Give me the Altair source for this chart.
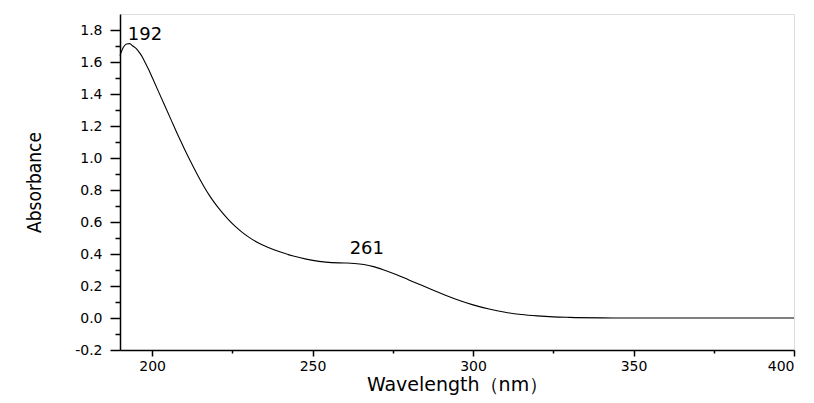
import altair as alt
import pandas as pd

wavelength = [190, 191, 192, 193, 194, 195, 196, 197, 198, 199, 200, 202, 204, 206, 208, 210, 212,
              214, 216, 218, 220, 222, 224, 226, 228, 230, 233, 236, 240, 244, 248, 252, 256, 260,
              263, 266, 269, 272, 276, 280, 284, 288, 292, 296, 300, 305, 310, 315, 320, 325, 330,
              340, 350, 375, 400]
absorbance = [1.64, 1.69, 1.713, 1.715, 1.70, 1.685, 1.66, 1.63, 1.59, 1.55, 1.505, 1.415, 1.325,
              1.235, 1.145, 1.06, 0.978, 0.90, 0.827, 0.762, 0.705, 0.655, 0.61, 0.571, 0.537,
              0.507, 0.47, 0.442, 0.412, 0.387, 0.368, 0.354, 0.346, 0.344, 0.341, 0.334, 0.321,
              0.302, 0.272, 0.238, 0.204, 0.171, 0.138, 0.108, 0.082, 0.056, 0.036, 0.022, 0.013,
              0.007, 0.004, 0.001, 0.0, 0.0, 0.0]

peak_labels = ["192", "261"]
peak_x = [197.8, 266.9]
peak_y = [1.77, 0.43]

x_major = [200, 250, 300, 350, 400]
x_minor = [225, 275, 325, 375]
y_major = [-0.2, 0.0, 0.2, 0.4, 0.6, 0.8, 1.0, 1.2, 1.4, 1.6, 1.8]
y_minor = [-0.1, 0.1, 0.3, 0.5, 0.7, 0.9, 1.1, 1.3, 1.5, 1.7]

df = pd.DataFrame({"wl": wavelength, "abs": absorbance})
lab = pd.DataFrame({"t": peak_labels, "wl": peak_x, "abs": peak_y})

FONT = "DejaVu Sans"
xscale = alt.Scale(domain=[190, 400], nice=False, zero=False)
yscale = alt.Scale(domain=[-0.2, 1.9], nice=False, zero=False)

lab_expr = "datum.value < 0 ? '-' + format(-datum.value, '.1f') : format(datum.value, '.1f')"

line = alt.Chart(df).mark_line(color="black", strokeWidth=1.1, interpolate="monotone").encode(
    x=alt.X("wl:Q", scale=xscale,
            axis=alt.Axis(orient="bottom", values=x_major, format="d", title="Wavelength（nm）",
                          tickSize=6, labelPadding=3, labelFontSize=14, labelFont=FONT,
                          titleFont=FONT, titleFontSize=19, titleFontWeight="normal",
                          titlePadding=2, domainColor="black", domainWidth=1.5,
                          tickColor="black", tickWidth=1.5, labelColor="black",
                          titleColor="black", grid=False)),
    y=alt.Y("abs:Q", scale=yscale,
            axis=alt.Axis(orient="left", values=y_major, labelExpr=lab_expr, title="Absorbance",
                          tickSize=10, labelPadding=8, labelFontSize=14, labelFont=FONT,
                          titleFont="DejaVu Sans Condensed, Liberation Sans Narrow, Liberation Sans",
                          titleFontSize=19, titleFontWeight="normal", titlePadding=30,
                          domainColor="black", domainWidth=1.5, tickColor="black", tickWidth=1.5,
                          labelColor="black", titleColor="black", grid=False)),
)

minor = alt.Chart(df).mark_line(opacity=0).encode(
    x=alt.X("wl:Q", scale=xscale,
            axis=alt.Axis(orient="bottom", values=x_minor, labels=False, title=None, tickSize=3,
                          domain=False, tickColor="black", tickWidth=1.5, grid=False)),
    y=alt.Y("abs:Q", scale=yscale,
            axis=alt.Axis(orient="left", values=y_minor, labels=False, title=None, tickSize=5,
                          domain=False, tickColor="black", tickWidth=1.5, grid=False)),
)

text = alt.Chart(lab).mark_text(font=FONT, fontSize=18, color="black").encode(
    x=alt.X("wl:Q", scale=xscale, axis=None),
    y=alt.Y("abs:Q", scale=yscale, axis=None),
    text="t:N",
)

chart = alt.layer(line, minor, text).resolve_axis(x="independent", y="independent").properties(
    width=674, height=336,
    autosize=alt.AutoSizeParams(type="none"),
    padding={"left": 112, "top": 6, "right": 12, "bottom": 45},
).configure_view(stroke="#333", strokeWidth=2).configure(background="white")

chart.save("out.html", embed_options={"renderer": "svg", "actions": False})
